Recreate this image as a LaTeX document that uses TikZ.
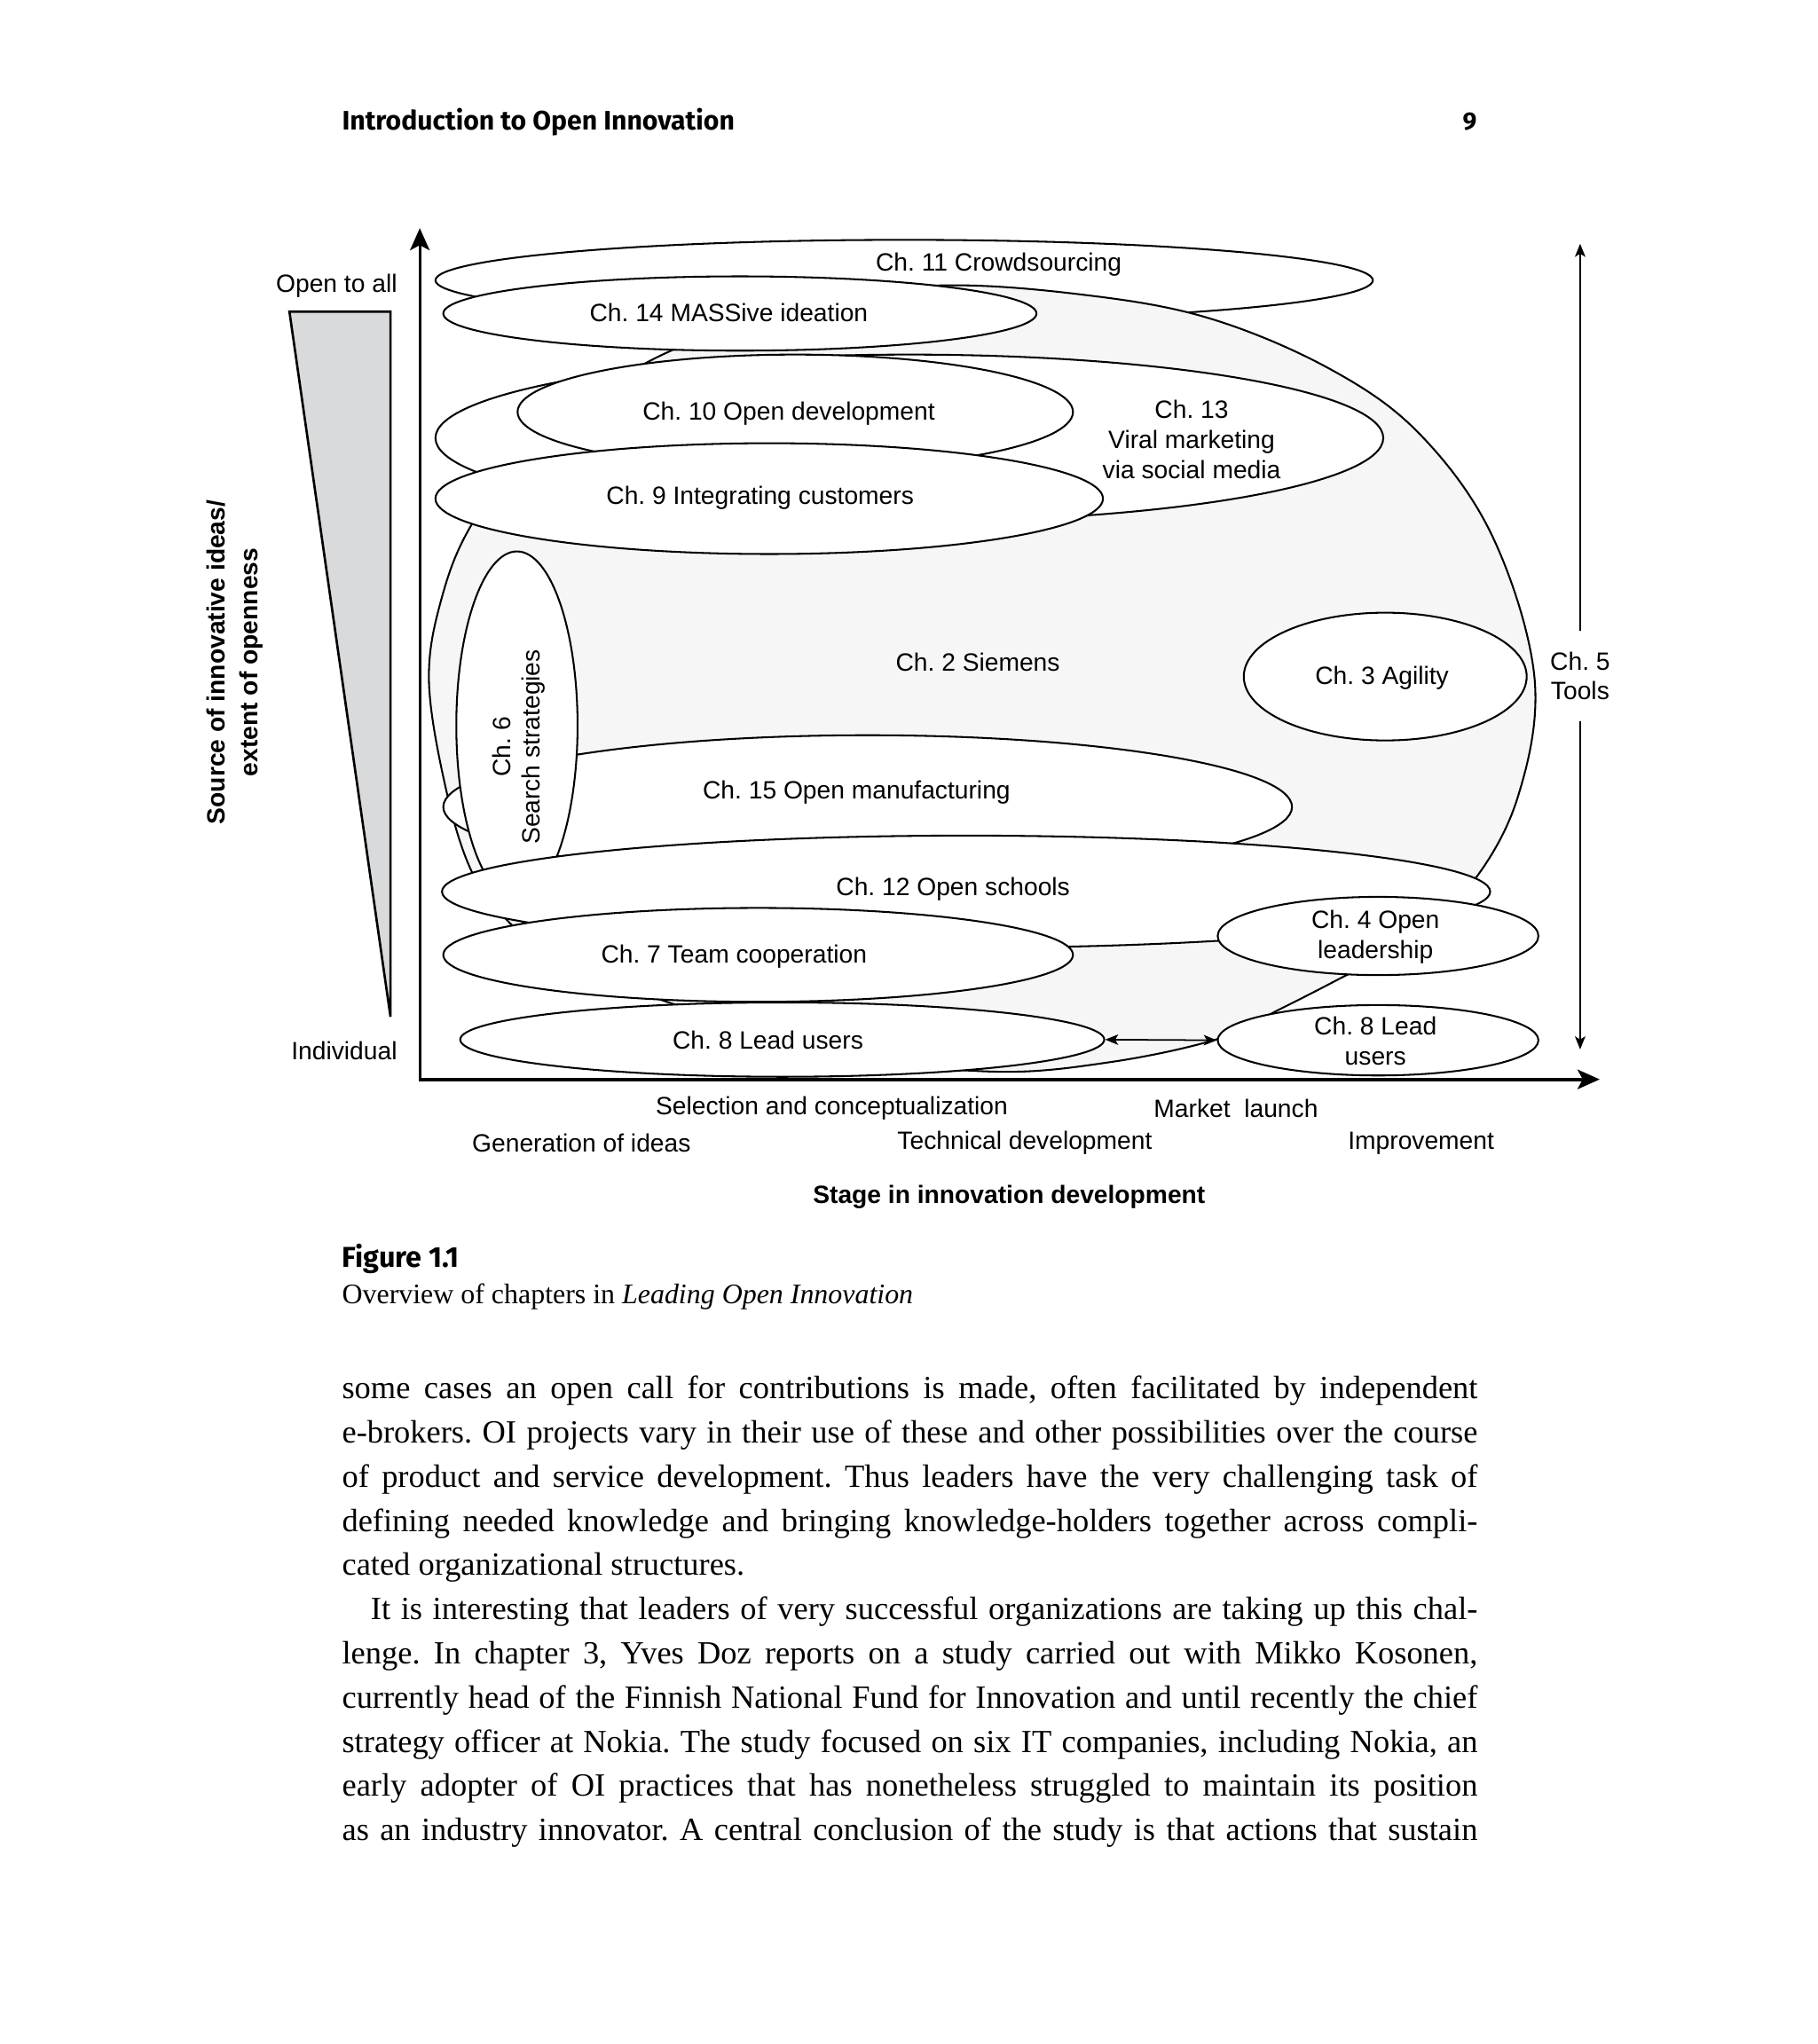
\documentclass[tikz,border=0pt]{standalone}
\usepackage{fontspec}
\usepackage{graphicx}
\setmainfont{Liberation Serif}
\newfontfamily\dsans{Liberation Sans}
\newfontfamily\hsans{Fira Sans}
\usetikzlibrary{shapes.geometric,arrows.meta}
\definecolor{trigray}{HTML}{D9DADC}
\definecolor{blobgray}{HTML}{F6F6F6}
\newcommand\jl[2]{\sbox0{#2}\ifdim\wd0>#1\relax\resizebox{#1}{\height}{\usebox0}\else\makebox[#1][s]{#2}\fi}
\tikzset{smalltip/.tip={Stealth[length=5pt, width=4pt, inset=1.2pt]}}
\frenchspacing
\begin{document}
\frenchspacing
\begin{tikzpicture}[x=0.5pt,y=-0.5pt,
  oval/.style={ellipse, draw, fill=white, line width=0.7pt, inner sep=0pt},
  lbl/.style={font=\dsans\fontsize{9.6}{11.5}\selectfont, align=center, inner sep=0pt},
  blbl/.style={font=\dsans\bfseries\fontsize{9.6}{12.5}\selectfont, align=center, inner sep=0pt},
  body/.style={anchor=base west, inner sep=0pt, font=\fontsize{12.4}{17}\selectfont},
  axis/.style={line width=1pt, -{Stealth[length=8.5pt, width=7.5pt, inset=2pt]}},
  thinarrow/.style={line width=0.6pt}]
\useasboundingbox (0,0) rectangle (1394,1568);
\fill[white] (0,0) rectangle (1394,1568);

% header
\node[anchor=base west, inner sep=0pt] (head) at (262,100) {\resizebox{150.5pt}{!}{\hsans\bfseries Introduction to Open Innovation}};
\node[anchor=base east, inner sep=0pt] (pagenum) at (1133,100) {\resizebox{!}{6.6pt}{\hsans\bfseries 9}};

% openness triangle
\draw[fill=trigray, line width=0.9pt] (222,239) -- (299.5,239) -- (299.5,780) -- cycle;
\node[lbl, anchor=east] (opentoall) at (305,219) {Open to all};
\node[lbl, anchor=east] (individual) at (305,806) {Individual};
\node[blbl, rotate=90] (ylabel) at (180,508) {Source of innovative ideas/\\extent of openness};

% ellipses
\node[oval, minimum width=359.5pt, minimum height=31pt] (c11) at (693.5,215) {};
\draw[fill=blobgray, line width=0.7pt] plot[smooth cycle, tension=0.6] coordinates {
  (329,522) (339,458) (362,402) (408,342) (465,298) (517,268) (615,232) (720,219)
  (830,226) (927,244) (1020,283) (1089,333) (1145,412) (1177,520)
  (1164,612) (1127,680) (1075,725) (1027,751) (982,774) (934,797)
  (850,815) (760,822) (640,808) (510,768) (430,737) (391,708) (362,669) (342,605)};
\node[oval, minimum width=227.5pt, minimum height=28.5pt] (c14) at (567.5,240.5) {};
\node[oval, minimum width=363.5pt, minimum height=64pt] (c13) at (697.5,336) {};
\node[oval, minimum width=213pt, minimum height=44pt] (c10) at (610,316) {};
\node[oval, minimum width=256pt, minimum height=42.5pt] (c9) at (590,382.5) {};
\node[oval, minimum width=108.5pt, minimum height=49pt] (c3) at (1062.5,519) {};
\node[oval, minimum width=325.5pt, minimum height=55pt] (c15) at (665.5,619) {};
\node[oval, minimum width=46.5pt, minimum height=133.5pt] (c6) at (396.5,556.5) {};
\node[oval, minimum width=402pt, minimum height=43pt] (c12) at (741,684) {};
\node[oval, minimum width=241.5pt, minimum height=36pt] (c7) at (581.5,732.5) {};
\node[oval, minimum width=123pt, minimum height=30pt] (c4) at (1057,718) {};
\node[oval, minimum width=247pt, minimum height=28.5pt] (c8l) at (600,797.5) {};
\node[oval, minimum width=123pt, minimum height=27pt] (c8r) at (1057,798) {};

% labels
\node[lbl] (t11) at (766,203) {Ch. 11 Crowdsourcing};
\node[lbl] (t14) at (559,240) {Ch. 14 MASSive ideation};
\node[lbl] (t10) at (605,317) {Ch. 10 Open development};
\node[lbl] (t13) at (914,337) {Ch. 13\\Viral marketing\\via social media};
\node[lbl] (t9) at (583,382) {Ch. 9 Integrating customers};
\node[lbl] (t2) at (750,508) {Ch. 2 Siemens};
\node[lbl] (t3) at (1060,520) {Ch. 3 Agility};
\node[lbl, rotate=90, font=\dsans\fontsize{9.6}{11}\selectfont] (t6) at (398,573) {Ch. 6\\Search strategies};
\node[lbl] (t15) at (657,608) {Ch. 15 Open manufacturing};
\node[lbl] (t12) at (731,682) {Ch. 12 Open schools};
\node[lbl] (t4) at (1055,719) {Ch. 4 Open\\leadership};
\node[lbl] (t7) at (563,734) {Ch. 7 Team cooperation};
\node[lbl] (t8l) at (589,798) {Ch. 8 Lead users};
\node[lbl] (t8r) at (1055,798.5) {Ch. 8 Lead\\users};

% Ch. 5 tools double arrow
\node[lbl, inner ysep=8pt] (t5) at (1212,518.5) {Ch. 5\\Tools};
\coordinate (t5top) at (1212,187);
\coordinate (t5bot) at (1212,805);
\draw[thinarrow, -{smalltip}] (t5) -- (t5top);
\draw[thinarrow, -{smalltip}] (t5) -- (t5bot);

% lead users arrow
\draw[thinarrow, {smalltip}-{smalltip}] (c8l.east) -- (c8r.west);

% axes
\coordinate (origin) at (322,828);
\coordinate (ytip) at (322,175);
\coordinate (xtip) at (1227,828);
\draw[axis] (origin) -- (ytip);
\draw[axis, line width=1.3pt] ([xshift=-0.5pt]origin) -- (xtip);

% stage labels
\node[lbl] (s1) at (638,850) {Selection and conceptualization};
\node[lbl] (s2) at (948,850) {Market\ \ launch};
\node[lbl] (s3) at (446,877) {Generation of ideas};
\node[lbl] (s4) at (786,877) {Technical development};
\node[lbl] (s5) at (1090,877) {Improvement};
\node[blbl] (xlabel) at (774,918) {Stage in innovation development};

% caption
\node[anchor=base west, inner sep=0pt] (figno) at (262,972) {\resizebox{45pt}{!}{\hsans\bfseries Figure 1.1}};
\node[anchor=base west, inner sep=0pt] (figcap) at (262,1000) {\resizebox{219pt}{!}{Overview of chapters in \textit{Leading Open Innovation}}};

% body text
\node[body] (l1) at (262,1073.0) {\jl{435.5pt}{some cases an open call for contributions is made, often facilitated by independent}};
\node[body] (l2) at (262,1106.9) {\jl{435.5pt}{e-brokers. OI projects vary in their use of these and other possibilities over the course}};
\node[body] (l3) at (262,1140.8) {\jl{435.5pt}{of product and service development. Thus leaders have the very challenging task of}};
\node[body] (l4) at (262,1174.7) {\jl{435.5pt}{defining needed knowledge and bringing knowledge-holders together across compli-}};
\node[body] (l5) at (262,1208.6) {cated organizational structures.};
\node[body] (l6) at (284,1242.5) {\jl{424.5pt}{It is interesting that leaders of very successful organizations are taking up this chal-}};
\node[body] (l7) at (262,1276.4) {\jl{435.5pt}{lenge. In chapter 3, Yves Doz reports on a study carried out with Mikko Kosonen,}};
\node[body] (l8) at (262,1310.3) {\jl{435.5pt}{currently head of the Finnish National Fund for Innovation and until recently the chief}};
\node[body] (l9) at (262,1344.2) {\jl{435.5pt}{strategy officer at Nokia. The study focused on six IT companies, including Nokia, an}};
\node[body] (l10) at (262,1378.1) {\jl{435.5pt}{early adopter of OI practices that has nonetheless struggled to maintain its position}};
\node[body] (l11) at (262,1412.0) {\jl{435.5pt}{as an industry innovator. A central conclusion of the study is that actions that sustain}};
\end{tikzpicture}
\end{document}
